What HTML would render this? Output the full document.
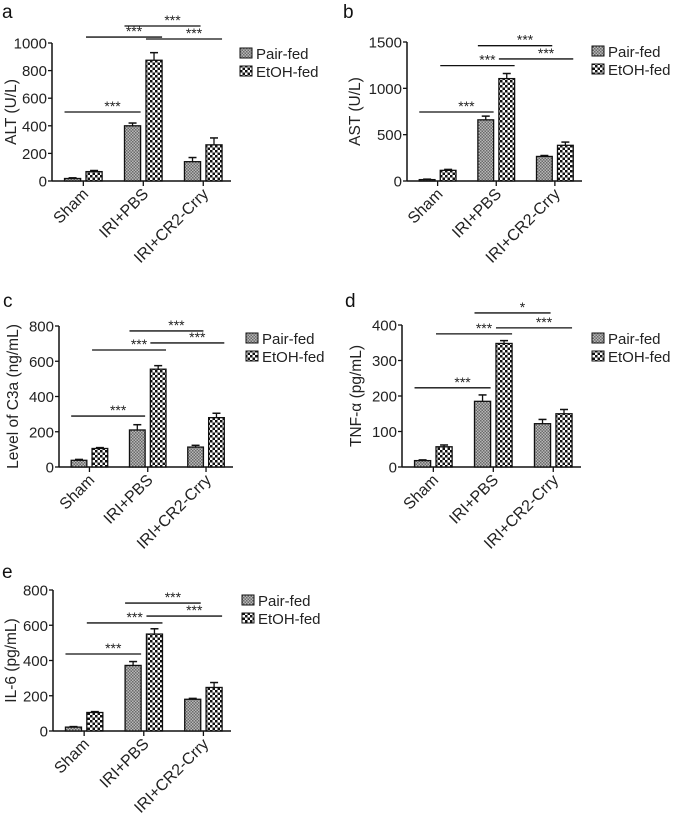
<!DOCTYPE html>
<html><head><meta charset="utf-8"><style>
html,body{margin:0;padding:0;background:#fff;}
svg{display:block;font-family:"Liberation Sans",Arial,sans-serif;}
</style></head><body>
<svg id="fig" width="673" height="818" viewBox="0 0 673 818" xmlns="http://www.w3.org/2000/svg">
<defs>
<pattern id="pPair" width="3" height="3" patternUnits="userSpaceOnUse"><rect width="3" height="3" fill="#b8b8b8"/><rect width="1.5" height="1.5" fill="#6a6a6a"/><rect x="1.5" y="1.5" width="1.5" height="1.5" fill="#6a6a6a"/></pattern>
<pattern id="pEtoh" width="5" height="5" patternUnits="userSpaceOnUse"><rect width="5" height="5" fill="#fff"/><rect width="2.5" height="2.5" fill="#111"/><rect x="2.5" y="2.5" width="2.5" height="2.5" fill="#111"/></pattern>
</defs>
</svg>
<script>
const categories = ["Sham","IRI+PBS","IRI+CR2-Crry"];
const seriesNames = ["Pair-fed","EtOH-fed"];
const altPair = [18,400,140], altPairErr = [5,20,30], altEtoh = [68,875,262], altEtohErr = [8,55,50];
const astPair = [15,660,265], astPairErr = [5,40,10], astEtoh = [115,1105,385], astEtohErr = [10,55,35];
const c3aPair = [38,210,113], c3aPairErr = [5,30,10], c3aEtoh = [105,555,280], c3aEtohErr = [5,20,25];
const tnfPair = [18,185,122], tnfPairErr = [2,18,12], tnfEtoh = [57,348,150], tnfEtohErr = [5,8,12];
const il6Pair = [22,372,180], il6PairErr = [3,22,5], il6Etoh = [105,550,247], il6EtohErr = [5,30,28];
const altTicks = [0,200,400,600,800,1000];
const astTicks = [0,500,1000,1500];
const c3aTicks = [0,200,400,600,800];
const tnfTicks = [0,100,200,300,400];
const il6Ticks = [0,200,400,600,800];
// significance: [fromBar, toBar, value, label]; bars indexed group*2+series
const altSig = [[0,2,500,"***"],[1,3,1043,"***"],[2,4,1123,"***"],[3,5,1029,"***"]];
const astSig = [[0,2,745,"***"],[1,3,1245,"***"],[2,4,1460,"***"],[3,5,1317,"***"]];
const c3aSig = [[0,2,289,"***"],[1,3,664,"***"],[2,4,772,"***"],[3,5,704,"***"]];
const tnfSig = [[0,2,223,"***"],[1,3,375,"***"],[2,4,434,"*"],[3,5,392,"***"]];
const il6Sig = [[0,2,437,"***"],[1,3,613,"***"],[2,4,726,"***"],[3,5,652,"***"]];

const svg = document.getElementById('fig');
const NS = 'http://www.w3.org/2000/svg';
function mk(tag, attrs, parent){const e=document.createElementNS(NS,tag);for(const k in attrs)e.setAttribute(k,attrs[k]);(parent||svg).appendChild(e);return e;}

const panels = [
 {id:'alt',letter:'a',lx:2,ly:18,X0:52,X1:231,y0:181,yt:43,max:1000,ticks:altTicks,pair:altPair,pe:altPairErr,et:altEtoh,ee:altEtohErr,sig:altSig,title:'ALT (U/L)',tx:16,leg:[240,48]},
 {id:'ast',letter:'b',lx:343,ly:18,X0:407,X1:582,y0:181,yt:42,max:1500,ticks:astTicks,pair:astPair,pe:astPairErr,et:astEtoh,ee:astEtohErr,sig:astSig,title:'AST (U/L)',tx:360,leg:[592,46]},
 {id:'c3a',letter:'c',lx:3,ly:307,X0:59,X1:233,y0:467,yt:326,max:800,ticks:c3aTicks,pair:c3aPair,pe:c3aPairErr,et:c3aEtoh,ee:c3aEtohErr,sig:c3aSig,title:'Level of C3a (ng/mL)',tx:18,leg:[246,333]},
 {id:'tnf',letter:'d',lx:345,ly:307,X0:402,X1:581,y0:467,yt:325,max:400,ticks:tnfTicks,pair:tnfPair,pe:tnfPairErr,et:tnfEtoh,ee:tnfEtohErr,sig:tnfSig,title:'TNF-α (pg/mL)',tx:361,leg:[592,333]},
 {id:'il6',letter:'e',lx:2,ly:578,X0:53,X1:231,y0:731,yt:590,max:800,ticks:il6Ticks,pair:il6Pair,pe:il6PairErr,et:il6Etoh,ee:il6EtohErr,sig:il6Sig,title:'IL-6 (pg/mL)',tx:16,leg:[242,595]}
];

panels.forEach(p=>{
  const g = mk('g',{});
  
  
  const W = p.X1-p.X0;
  const y = v => p.y0 - v/p.max*(p.y0-p.yt);
  const bw = W*0.09;
  const bx = i => p.X0 + W*(0.07 + 0.335*Math.floor(i/2) + 0.12*(i%2));
  const L = mk('text',{x:p.lx,y:p.ly,'font-size':19,fill:'#111'},g); L.textContent=p.letter;
  
  
  const ya = mk('line',{x1:p.X0,y1:p.yt,x2:p.X0,y2:p.y0,stroke:'#111','stroke-width':1.5},g);
  
  
  const xa = mk('line',{x1:p.X0,y1:p.y0,x2:p.X1,y2:p.y0,stroke:'#111','stroke-width':1.5},g);
  
  
  p.ticks.forEach(t=>{
    mk('line',{x1:p.X0-4,y1:y(t),x2:p.X0,y2:y(t),stroke:'#111','stroke-width':1.3},g);
    const tl = mk('text',{x:p.X0-5,y:y(t)+5.5,'font-size':15,'text-anchor':'end',fill:'#222'},g);
    tl.textContent = t;
    
    
  });
  const tt = mk('text',{x:0,y:0,'font-size':15.5,'text-anchor':'middle',fill:'#222',transform:`translate(${p.tx},${(p.y0+p.yt)/2}) rotate(-90)`},g);
  tt.textContent = p.title;
  
  
  for(let i=0;i<6;i++){
    const gi=Math.floor(i/2), s=i%2;
    const v = s? p.et[gi]:p.pair[gi], e = s? p.ee[gi]:p.pe[gi];
    const x = bx(i);
    const r = mk('rect',{x:x,y:y(v),width:bw,height:p.y0-y(v),fill:s?'url(#pEtoh)':'url(#pPair)',stroke:'#111','stroke-width':1.3},g);
    
    
    const cx = x+bw/2;
    mk('line',{x1:cx,y1:y(v),x2:cx,y2:y(v+e),stroke:'#111','stroke-width':1.3},g);
    mk('line',{x1:cx-4,y1:y(v+e),x2:cx+4,y2:y(v+e),stroke:'#111','stroke-width':1.5},g);
  }
  categories.forEach((c,gi)=>{
    const tx = (bx(gi*2)+bw + bx(gi*2+1))/2;
    mk('line',{x1:tx,y1:p.y0,x2:tx,y2:p.y0+5,stroke:'#111','stroke-width':1.3},g);
    const cl = mk('text',{x:0,y:0,'font-size':16,'text-anchor':'end',fill:'#222',transform:`translate(${tx+6},${p.y0+14}) rotate(-45)`},g);
    cl.textContent = c;
    
    
  });
  p.sig.forEach(sg=>{
    const a = bx(sg[0]), b = bx(sg[1])+bw;
    const sl = mk('line',{x1:a,y1:y(sg[2]),x2:b,y2:y(sg[2]),stroke:'#111','stroke-width':1.3},g);
    
    
    const st = mk('text',{x:(a+b)/2+10,y:y(sg[2])-1,'font-size':14,'text-anchor':'middle',fill:'#222'},g);
    st.textContent = sg[3];
    
    
  });
  seriesNames.forEach((n,s)=>{
    const lx=p.leg[0], ly=p.leg[1]+s*18;
    const sw = mk('rect',{x:lx,y:ly,width:12,height:10,fill:s?'url(#pEtoh)':'url(#pPair)',stroke:'#111','stroke-width':1},g);
    
    
    const lt = mk('text',{x:lx+16,y:ly+11,'font-size':15,fill:'#222'},g);
    lt.textContent = n;
    
    
  });
});
</script>
</body></html>
